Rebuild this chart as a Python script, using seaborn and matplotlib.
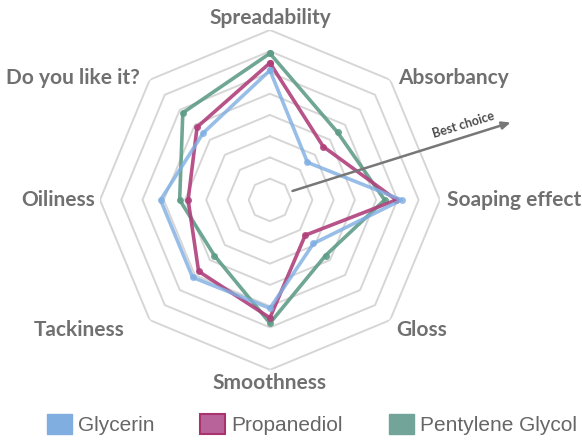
import numpy as np
import pandas as pd
import matplotlib
matplotlib.use('Agg')
import matplotlib.pyplot as plt
import seaborn as sns
from matplotlib.patches import Patch, FancyArrowPatch

# Данные
categories = ['Spreadability', 'Absorbancy', 'Soaping effect', 'Gloss',
              'Smoothness', 'Tackiness', 'Oiliness', 'Do you like it?']
glycerin = [6.1, 2.5, 6.2, 2.9, 5.1, 5.15, 5.15, 4.45]
propanediol = [6.45, 3.55, 5.95, 2.35, 5.55, 4.75, 3.85, 4.85]
pentylene = [6.9, 4.5, 5.4, 3.7, 5.8, 3.7, 4.25, 5.8]
series_names = ['Glycerin', 'Propanediol', 'Pentylene Glycol']
ring_levels = [1, 2, 3, 4, 5, 6, 7, 8]

colors = {'Glycerin': '#7eaee2', 'Propanediol': '#b0407c', 'Pentylene Glycol': '#5f9c88'}

sns.set_style('white')
plt.rcParams['font.family'] = ['Lato', 'DejaVu Sans']

n = len(categories)
angles = np.linspace(0, 2 * np.pi, n, endpoint=False)
angles_closed = np.append(angles, 2 * np.pi)

# Таблица для seaborn
rows = []
for name, vals in zip(series_names, [glycerin, propanediol, pentylene]):
    closed = list(vals) + [vals[0]]
    for a, v in zip(angles_closed, closed):
        rows.append({'series': name, 'theta': a, 'value': v})
df = pd.DataFrame(rows)

fig = plt.figure(figsize=(5.82, 4.44), dpi=100)
ax = fig.add_axes([0.1718, 0.1667, 0.584, 0.766], projection='polar')
ax.set_theta_offset(np.pi / 2)
ax.set_theta_direction(-1)
ax.set_ylim(0, 8)
ax.grid(False)
ax.spines['polar'].set_visible(False)
ax.set_xticks([])
ax.set_yticks([])

# Восьмиугольная сетка
for r in ring_levels:
    ax.plot(angles_closed, [r] * (n + 1), color='#d6d6d6', lw=1.4, zorder=1)

# Линии серий
draw_order = ['Pentylene Glycol', 'Propanediol', 'Glycerin']
for name in draw_order:
    sub = df[df['series'] == name]
    sns.lineplot(data=sub, x='theta', y='value', sort=False, estimator=None,
                 color=colors[name], lw=2.6, marker='o', markersize=5,
                 markeredgewidth=0, alpha=0.9 if name != 'Glycerin' else 0.8,
                 ax=ax, legend=False, zorder=3)
ax.set_xlabel('')
ax.set_ylabel('')

# Подписи осей (угол в градусах, радиус, выравнивание)
label_pos = [(0, 8.57, 'center'), (46.4, 8.32, 'left'), (90, 8.33, 'left'),
             (135.9, 8.52, 'left'), (180, 8.61, 'center'), (228.3, 9.2, 'right'),
             (270, 8.24, 'right'), (313.2, 8.39, 'right')]
for cat, (deg, r, ha) in zip(categories, label_pos):
    ax.text(np.deg2rad(deg), r, cat, ha=ha, va='center', fontsize=15,
            fontweight='bold', color='#707070', clip_on=False)

# Стрелка "Best choice"
fig.patches.append(FancyArrowPatch(
    (0.498, 0.568), (0.882, 0.726), transform=fig.transFigure,
    arrowstyle='-|>,head_length=5,head_width=2.2', color='#777777', lw=1.8))
fig.text(0.797, 0.718, 'Best choice', rotation=17, ha='center', va='center',
         fontsize=9, fontweight='bold', color='#4a4a4a')

# Легенда
handles = [Patch(facecolor='#80aee0', edgecolor='#80aee0', label='Glycerin'),
           Patch(facecolor='#b8649a', edgecolor='#a8336e', lw=1.5, label='Propanediol'),
           Patch(facecolor='#72a49a', edgecolor='#72a49a', label='Pentylene Glycol')]
leg = fig.legend(handles=handles, loc='center', bbox_to_anchor=(0.536, 0.043),
                 ncol=3, frameon=False, handlelength=1.2, handleheight=1.1,
                 handletextpad=0.29, columnspacing=2.2,
                 prop={'family': 'Liberation Sans', 'size': 15})
for t in leg.get_texts():
    t.set_color('#666666')

fig.savefig('out.png', dpi=100)
